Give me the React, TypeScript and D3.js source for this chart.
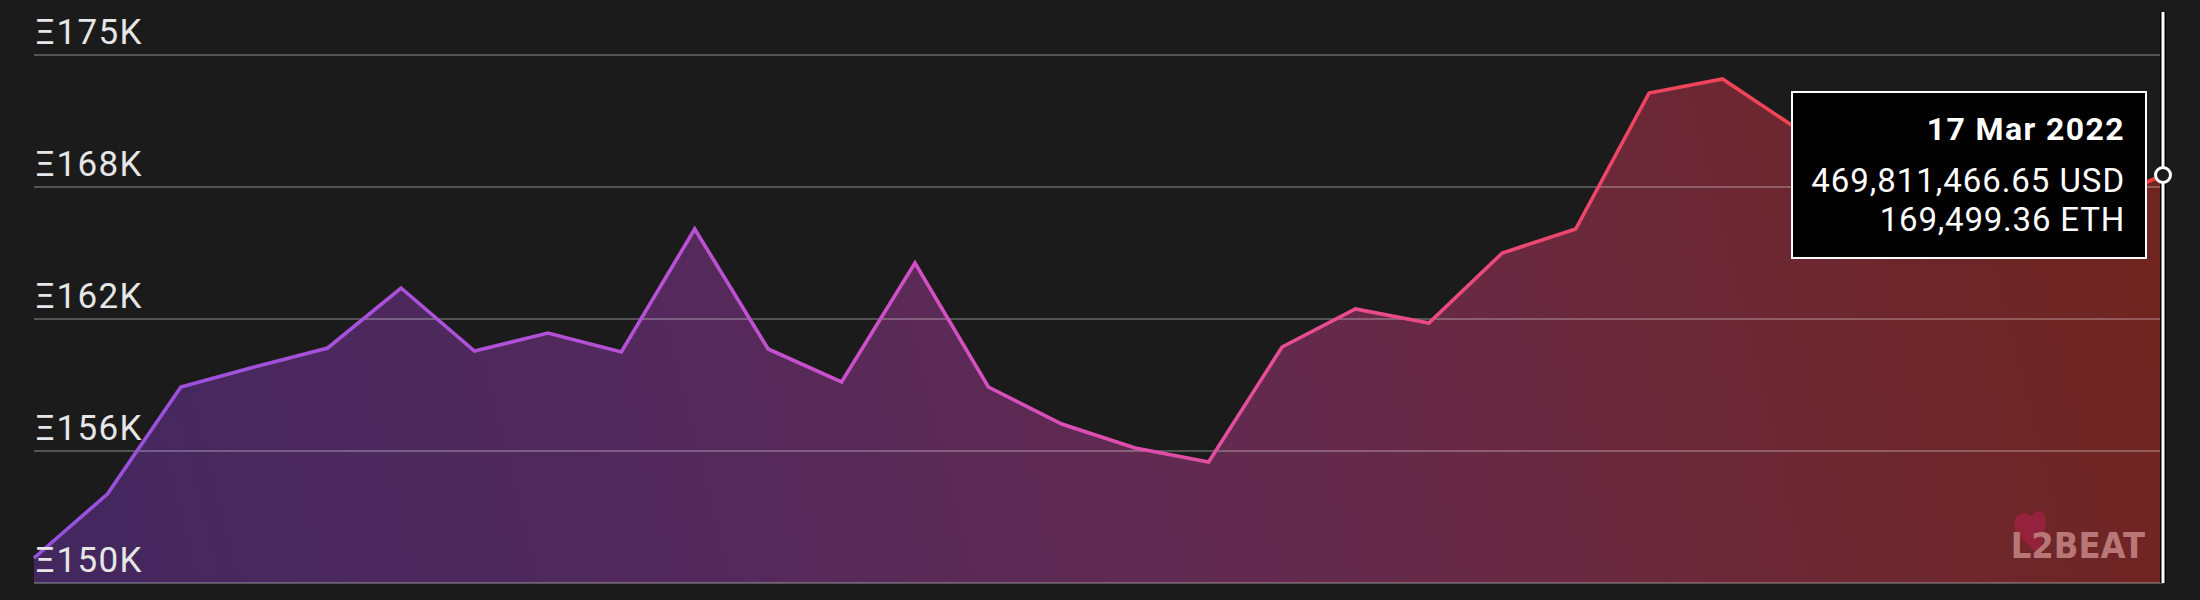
import React from "react";
import * as d3 from "d3";

const dates = [
  "16 Feb 2022", "17 Feb 2022", "18 Feb 2022", "19 Feb 2022", "20 Feb 2022",
  "21 Feb 2022", "22 Feb 2022", "23 Feb 2022", "24 Feb 2022", "25 Feb 2022",
  "26 Feb 2022", "27 Feb 2022", "28 Feb 2022", "1 Mar 2022", "2 Mar 2022",
  "3 Mar 2022", "4 Mar 2022", "5 Mar 2022", "6 Mar 2022", "7 Mar 2022",
  "8 Mar 2022", "9 Mar 2022", "10 Mar 2022", "11 Mar 2022", "12 Mar 2022",
  "13 Mar 2022", "14 Mar 2022", "15 Mar 2022", "16 Mar 2022", "17 Mar 2022",
];

const ethValues = [
  151184, 154214, 159281, 160227, 161127, 163968, 160985, 161837, 160937, 166762,
  161080, 159517, 165152, 159281, 157529, 156392, 155729, 161174, 162974, 162311,
  165625, 166762, 173201, 173864, 171544, 170502, 169555, 168845, 167803, 169318,
];

const tickValues = [150000, 156250, 162500, 168750, 175000];
const tickLabels = ["Ξ150K", "Ξ156K", "Ξ162K", "Ξ168K", "Ξ175K"];

const tooltipDate = dates[dates.length - 1];
const tooltipUsd = "469,811,466.65 USD";
const tooltipEth = "169,499.36 ETH";

const W = 2200;
const H = 600;
const LEFT = 34;
const RIGHT = 2163;
const TOP = 55;
const BOTTOM = 583;
const BG = "#1b1b1b";

export default function App() {
  const x = d3.scaleLinear().domain([0, ethValues.length - 1]).range([LEFT, RIGHT]);
  const y = d3.scaleLinear().domain([150000, 175000]).range([BOTTOM, TOP]);

  const line = d3
    .line<number>()
    .x((_, i) => x(i))
    .y((d) => y(d));
  const area = d3
    .area<number>()
    .x((_, i) => x(i))
    .y0(BOTTOM)
    .y1((d) => y(d));

  const lastI = ethValues.length - 1;
  const hx = x(lastI);
  const hy = y(ethValues[lastI]);
  const boxW = 354;
  const boxH = 166;
  const boxX = hx - 17 - boxW;
  const boxY = 92;
  const textRight = boxX + boxW - 21;
  const logoFill = "#c68585";

  return (
    <svg
      width={W}
      height={H}
      style={{ position: "absolute", left: 0, top: 0, background: BG }}
    >
      <defs>
        <linearGradient id="lineGrad" gradientUnits="userSpaceOnUse" x1={LEFT} y1={0} x2={RIGHT} y2={0}>
          <stop offset="0" stopColor="#9650de" />
          <stop offset="0.3" stopColor="#b851d6" />
          <stop offset="0.45" stopColor="#d94fbf" />
          <stop offset="0.6" stopColor="#e84c94" />
          <stop offset="0.78" stopColor="#f04459" />
          <stop offset="1" stopColor="#f23b3b" />
        </linearGradient>
        <linearGradient id="fillGrad" gradientUnits="userSpaceOnUse" x1={LEFT} y1={BOTTOM} x2={RIGHT} y2={TOP}>
          <stop offset="0" stopColor="#42275f" />
          <stop offset="0.3" stopColor="#53295c" />
          <stop offset="0.55" stopColor="#632a4f" />
          <stop offset="0.75" stopColor="#6b2838" />
          <stop offset="1" stopColor="#70241c" />
        </linearGradient>
      </defs>

      <rect x={0} y={0} width={W} height={H} fill={BG} />

      <path d={area(ethValues) ?? ""} fill="url(#fillGrad)" />

      {tickValues.map((t) => (
        <line
          key={t}
          x1={LEFT}
          x2={RIGHT}
          y1={y(t)}
          y2={y(t)}
          stroke="#ffffff"
          strokeOpacity={0.25}
          strokeWidth={2}
        />
      ))}

      <path
        d={line(ethValues) ?? ""}
        fill="none"
        stroke="url(#lineGrad)"
        strokeWidth={3.6}
        strokeLinejoin="miter"
      />

      {tickValues.map((t, i) => (
        <text
          key={"l" + t}
          x={LEFT + 1}
          y={y(t) - 11}
          fill="#e6e6e6"
          fontFamily="Roboto, 'Noto Sans', sans-serif"
          fontSize={35}
          letterSpacing={1.4}
        >
          {tickLabels[i]}
        </text>
      ))}

      {/* L2BEAT watermark */}
      <g opacity={0.85}>
        <path
          d="M2040,556 C2030,546 2014,536 2014,524 C2014,514 2024,510 2031,516 C2036,508 2046,510 2046,520 Z"
          fill="#9c2240"
        />
        <text
          x={2145}
          y={558}
          textAnchor="end"
          fill={logoFill}
          fontFamily="'Liberation Sans Narrow', 'DejaVu Sans Condensed', sans-serif"
          fontWeight="bold"
          fontSize={36}
        >
          L2BEAT
        </text>
      </g>

      {/* hover line and point */}
      <line x1={hx} x2={hx} y1={12} y2={BOTTOM} stroke="#000" strokeWidth={6} />
      <line x1={hx} x2={hx} y1={12} y2={BOTTOM} stroke="#fff" strokeWidth={3} />
      <circle cx={hx} cy={hy} r={7.5} fill={BG} stroke="#fff" strokeWidth={3} />

      {/* tooltip */}
      <rect x={boxX} y={boxY} width={boxW} height={boxH} fill="#000" stroke="#fff" strokeWidth={2} />
      <text
        x={textRight}
        y={boxY + 48}
        textAnchor="end"
        fill="#fff"
        fontFamily="Roboto, sans-serif"
        fontWeight="bold"
        fontSize={32}
        letterSpacing={1.4}
      >
        {tooltipDate}
      </text>
      <text
        x={textRight}
        y={boxY + 100}
        textAnchor="end"
        fill="#fff"
        fontFamily="Roboto, sans-serif"
        fontSize={33}
        letterSpacing={0.95}
      >
        {tooltipUsd}
      </text>
      <text
        x={textRight}
        y={boxY + 139}
        textAnchor="end"
        fill="#fff"
        fontFamily="Roboto, sans-serif"
        fontSize={33}
        letterSpacing={0.8}
      >
        {tooltipEth}
      </text>
    </svg>
  );
}
